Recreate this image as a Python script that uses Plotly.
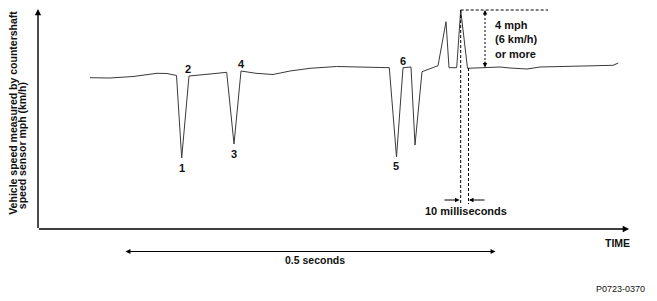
import plotly.graph_objects as go

# ---- data (time in drawing units, speed in drawing units; higher = faster) ----
time = [52, 72, 95, 112, 119, 129, 138.5, 143.7, 151, 172, 188.7, 196, 203, 218, 235, 252,
        272, 298.7, 351.3, 358.5, 365, 373, 377, 384, 400, 408, 411, 418.7, 422.7, 429.5,
        448.7, 462, 472, 489, 502, 525, 552, 575, 580.3]
speed = [151.3, 151, 152.5, 155, 155.7, 155.5, 153.5, 71, 153, 155, 156.7, 85, 158, 155.7, 154.5,
         158, 160.7, 162.5, 161.3, 72, 161.3, 162, 84, 157.3, 163.3, 207.3, 161.3, 161.3, 219,
         160.7, 161.7, 162, 161, 160, 162, 162.7, 163, 163.7, 166]
event_labels = ["1", "2", "3", "4", "5", "6"]
axis_labels = ["Vehicle speed measured by countershaft", "speed sensor mph (km/h)"]
x_label = "TIME"
span_label = "0.5 seconds"
delta_label = "4 mph<br>(6 km/h)<br>or more"
ms_label = "10 milliseconds"
code_label = "P0723-0370"

# drawing helpers: convert picture pixel position to axis units
X0, Y0 = 38, 229
def P(xp, yp):
    return xp - X0, Y0 - yp

FONT = "Liberation Sans, Arial, sans-serif"

fig = go.Figure()
fig.add_trace(go.Scatter(x=time, y=speed, mode="lines",
                         line=dict(color="#3a3a3a", width=1), hoverinfo="skip"))

ann = []
shapes = []

def arrow(x1, y1, x0, y0, side="end", width=1.1, size=1.0):
    hx, hy = P(x1, y1)
    tx, ty = P(x0, y0)
    ann.append(dict(x=hx, y=hy, ax=tx, ay=ty, xref="x", yref="y", axref="x", ayref="y",
                    showarrow=True, arrowhead=2, arrowsize=size, arrowwidth=width,
                    arrowcolor="black", arrowside=side, text=""))

def text(xp, yp, s, size=11, bold=True, xanchor="center", yanchor="middle", align="center", angle=0):
    x, y = P(xp, yp)
    ann.append(dict(x=x, y=y, xref="x", yref="y", showarrow=False,
                    text=f"<b>{s}</b>" if bold else s, textangle=angle,
                    font=dict(family=FONT, size=size, color="#111"),
                    xanchor=xanchor, yanchor=yanchor, align=align))

def dline(xa, ya, xb, yb, dash="3px,2px"):
    a = P(xa, ya); b = P(xb, yb)
    shapes.append(dict(type="line", x0=a[0], y0=a[1], x1=b[0], y1=b[1], xref="x", yref="y",
                       line=dict(color="black", width=1, dash=dash)))

# axes
arrow(38, 9, 38, 229.5, width=1.4, size=0.9)
arrow(629, 229, 37.5, 229, width=1.4, size=0.9)

# axis titles
text(12.3, 112.5, axis_labels[0], size=10.5, angle=-90)
text(21.7, 145.5, axis_labels[1], size=10.5, angle=-90)
text(617, 243, x_label, size=10.5)

# 0.5 seconds
arrow(495.5, 251.5, 124, 251.5, side="end+start", width=1.1, size=0.9)
text(315, 259.5, span_label, size=10.5)

# code
text(647, 289, code_label, size=9, bold=False, xanchor="right")

# event number labels
label_pos = [(181.7, 168), (188.3, 69.3), (234, 154), (241.7, 64), (396, 166), (402.7, 60.7)]
for s, (xp, yp) in zip(event_labels, label_pos):
    text(xp, yp, s, size=11)

# peak annotation
dline(460.7, 10, 548, 10)
dline(460.7, 10, 460.7, 204)
dline(468.5, 68, 468.5, 204)
dline(485, 14, 485, 63, dash="2px,2px")
arrow(485, 10, 485, 17, width=1, size=0.9)
arrow(485, 67.5, 485, 60, width=1, size=0.9)
text(492.7, 39, delta_label, size=11, xanchor="left", align="left")

# 10 ms
arrow(459.5, 200, 443, 200, width=1, size=0.9)
arrow(469, 200, 486, 200, width=1, size=0.9)
text(466, 211, ms_label, size=11)

fig.update_layout(
    width=657, height=301, margin=dict(l=0, r=0, t=0, b=0),
    paper_bgcolor="white", plot_bgcolor="white", showlegend=False,
    xaxis=dict(range=[-X0, 657 - X0], visible=False, fixedrange=True),
    yaxis=dict(range=[Y0 - 301, Y0], visible=False, fixedrange=True),
    annotations=ann, shapes=shapes,
)
fig.write_html("out.html")
